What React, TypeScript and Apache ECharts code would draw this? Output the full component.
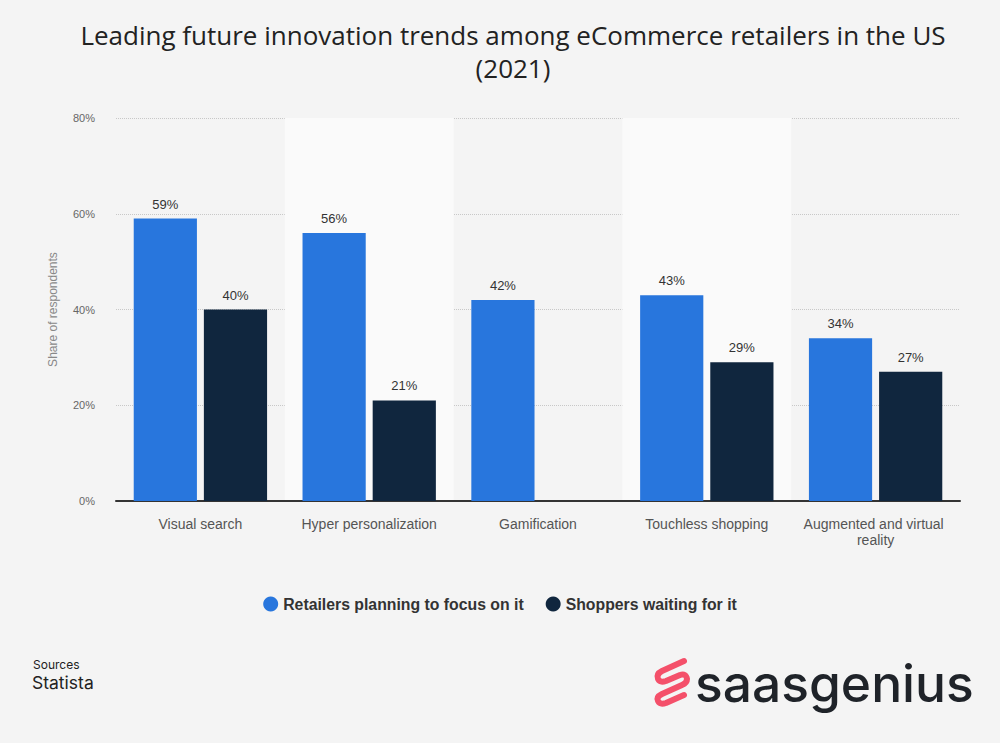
import React, { useEffect, useRef } from "react";
import * as echarts from "echarts";

const categories = [
  "Visual search",
  "Hyper personalization",
  "Gamification",
  "Touchless shopping",
  "Augmented and virtual reality",
];
const retailers = [59, 56, 42, 43, 34];
const shoppers: (number | null)[] = [40, 21, null, 29, 27];
const yTicks = [0, 20, 40, 60, 80];

const LOGO_D =
  "M31 4 L9 14 Q3 17 5 22 Q7 26 13 24 L27 18 Q33 16 34 22 Q34 26 29 28 L9 37 Q3 40 5 44 Q7 48 13 46 L31 38";

export default function App() {
  const ref = useRef<HTMLDivElement>(null);
  useEffect(() => {
    if (!ref.current) return;
    try {
      echarts.graphic.registerShape("logo", echarts.graphic.extendPath(LOGO_D, {}));
    } catch (e) {}
    const chart = echarts.init(ref.current, undefined, { renderer: "svg" });
    const labelCfg = {
      show: true,
      position: "top",
      distance: 8,
      color: "#333",
      fontSize: 13,
      fontFamily: "Liberation Sans, Arial, sans-serif",
      formatter: (p: any) => `${p.value}%`,
    };
    chart.setOption({
      animation: false,
      backgroundColor: "#f4f4f4",
      title: {
        text: "Leading future innovation trends among eCommerce retailers in the US\n(2021)",
        left: 508,
        textAlign: "center",
        top: 13,
        textStyle: {
          fontFamily: "Open Sans, sans-serif",
          fontWeight: "normal",
          fontSize: 26,
          color: "#222",
          lineHeight: 33,
        },
      },
      grid: { left: 116, right: 40, top: 118, bottom: 242, containLabel: false },
      legend: {
        bottom: 126,
        left: "center",
        icon: "circle",
        itemWidth: 15,
        itemHeight: 15,
        itemGap: 22,
        textStyle: {
          fontFamily: "Liberation Sans, Arial, sans-serif",
          fontWeight: "bold",
          fontSize: 15.8,
          color: "#333",
        },
        data: ["Retailers planning to focus on it", "Shoppers waiting for it"],
      },
      xAxis: {
        type: "category",
        data: categories,
        axisLine: { lineStyle: { color: "#333", width: 2 } },
        axisTick: { show: false },
        axisLabel: {
          interval: 0,
          margin: 15,
          color: "#555",
          fontSize: 14,
          fontFamily: "Liberation Sans, Arial, sans-serif",
          width: 165,
          overflow: "break",
          lineHeight: 16,
        },
        splitArea: {
          show: true,
          areaStyle: { color: ["rgba(0,0,0,0)", "#fafafa"] },
        },
      },
      yAxis: {
        type: "value",
        min: yTicks[0],
        max: yTicks[yTicks.length - 1],
        interval: 20,
        name: "Share of respondents",
        nameLocation: "middle",
        nameGap: 57,
        nameTextStyle: {
          color: "#888",
          fontSize: 12,
          fontFamily: "Liberation Sans, Arial, sans-serif",
        },
        axisLabel: {
          formatter: "{value}%",
          color: "#666",
          fontSize: 11,
          margin: 21,
          fontFamily: "Liberation Sans, Arial, sans-serif",
        },
        axisLine: { show: false },
        axisTick: { show: false },
        splitLine: { lineStyle: { color: "#c8c8c8", type: "dotted" } },
      },
      series: [
        {
          name: "Retailers planning to focus on it",
          type: "bar",
          data: retailers,
          itemStyle: { color: "#2876dd" },
          barGap: "11%",
          barCategoryGap: "21%",
          label: labelCfg,
        },
        {
          name: "Shoppers waiting for it",
          type: "bar",
          data: shoppers,
          itemStyle: { color: "#10263e" },
          label: labelCfg,
        },
      ],
      graphic: [
        {
          type: "text",
          left: 33,
          top: 658,
          style: {
            text: "Sources",
            fontSize: 12,
            fill: "#222",
            fontFamily: "Inter, sans-serif",
          },
        },
        {
          type: "text",
          left: 32,
          top: 673,
          style: {
            text: "Statista",
            fontSize: 17.5,
            fill: "#222",
            fontFamily: "Inter, sans-serif",
          },
        },
        {
          type: "logo",
          x: 653,
          y: 657,
          scaleX: 1,
          scaleY: 1,
          style: {
            fill: "none",
            stroke: "#f4506a",
            lineWidth: 6,
            lineCap: "round",
            lineJoin: "round",
          },
        },
        {
          type: "text",
          left: 695,
          top: 657,
          style: {
            text: "saasgenius",
            fontSize: 51.5,
            fontWeight: 500,
            fill: "#1f2329",
            fontFamily: "Inter, sans-serif",
          },
        },
      ],
    });
    return () => chart.dispose();
  }, []);
  return (
    <div
      ref={ref}
      style={{ position: "fixed", left: 0, top: 0, width: 1000, height: 743 }}
    />
  );
}
